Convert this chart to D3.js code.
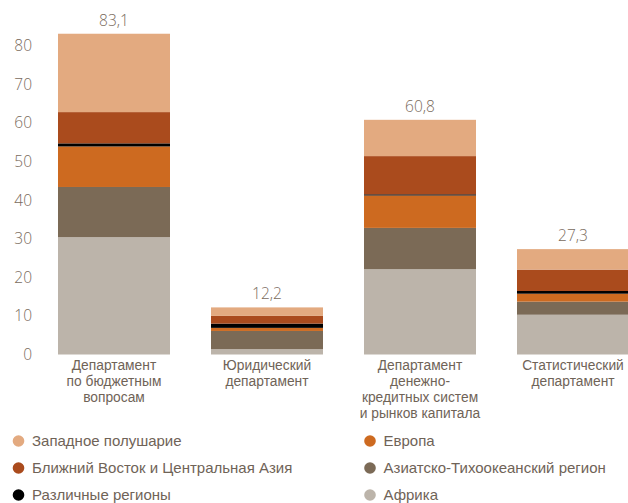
<!DOCTYPE html>
<html><head><meta charset="utf-8">
<script src="https://cdn.jsdelivr.net/npm/d3@7"></script>
<style>
html,body{margin:0;padding:0;background:#fff;}
svg{display:block;}
</style></head>
<body>
<svg id="chart" width="628" height="503"></svg>
<script>
// ---- data ----
const categories = [
  ["Департамент","по бюджетным","вопросам"],
  ["Юридический","департамент"],
  ["Департамент","денежно-","кредитных систем","и рынков капитала"],
  ["Статистический","департамент"]
];
const totals = ["83,1","12,2","60,8","27,3"];
// stacked bottom -> top
const seriesNames = ["Африка","Азиатско-Тихоокеанский регион","Европа","Различные регионы","Ближний Восток и Центральная Азия","Западное полушарие"];
const africa      = [30.4, 1.4, 22.1, 10.3];
const asiaPacific = [13.0, 4.7, 10.7, 3.4];
const europe      = [10.5, 0.8, 8.4, 2.05];
const various     = [0.8, 1.1, 0.3, 0.7];
const middleEast  = [8.1, 2.0, 9.9, 5.55];
const western     = [20.3, 2.2, 9.4, 5.3];
const yTicks = [0,10,20,30,40,50,60,70,80];
const legendOrder = ["Западное полушарие","Европа","Ближний Восток и Центральная Азия","Азиатско-Тихоокеанский регион","Различные регионы","Африка"];

const colors = {
  "Западное полушарие":"#e3aa80",
  "Европа":"#cd6a20",
  "Ближний Восток и Центральная Азия":"#aa4b1d",
  "Азиатско-Тихоокеанский регион":"#7b6a56",
  "Различные регионы":"#000000",
  "Африка":"#bcb4aa"
};
const seriesValues = [africa, asiaPacific, europe, various, middleEast, western];

const rows = categories.map((c,i)=>{
  const r = {idx:i};
  seriesNames.forEach((s,j)=>r[s]=seriesValues[j][i]);
  return r;
});

const svg = d3.select("#chart");
const x = d3.scaleBand().domain(d3.range(categories.length)).range([58,629]).paddingInner(0.268).paddingOuter(0);
const y = d3.scaleLinear().domain([0,80]).range([354.5,45.7]);

const stack = d3.stack().keys(seriesNames)(rows);
const textColor = "#7a6b5d";

svg.append("g").selectAll("g").data(stack).join("g")
  .attr("fill", d=>colors[d.key])
  .selectAll("rect").data(d=>d).join("rect")
  .attr("x", d=>x(d.data.idx))
  .attr("width", x.bandwidth())
  .attr("y", d=>y(d[1]))
  .attr("height", d=>y(d[0])-y(d[1]));

// y tick labels
svg.append("g").selectAll("text").data(yTicks).join("text")
  .attr("x", 32).attr("y", d=>y(d)).attr("dy","0.36em")
  .attr("text-anchor","end")
  .attr("font-family","'Open Sans', sans-serif").attr("font-weight",300)
  .attr("font-size",15.5).attr("fill",textColor)
  .text(d=>d);

// totals
const totalVals = rows.map(r=>d3.sum(seriesNames,s=>r[s]));
svg.append("g").selectAll("text").data(totals).join("text")
  .attr("x",(d,i)=>x(i)+x.bandwidth()/2)
  .attr("y",(d,i)=>y(totalVals[i])-8)
  .attr("text-anchor","middle")
  .attr("font-family","'Open Sans', sans-serif").attr("font-weight",300)
  .attr("font-size",15.5).attr("fill",textColor)
  .text(d=>d);

// category labels
const cat = svg.append("g").selectAll("text").data(categories).join("text")
  .attr("text-anchor","middle")
  .attr("font-family","'Liberation Sans', Arial, sans-serif")
  .attr("font-size",13.8).attr("fill","#6f6357");
cat.each(function(lines,i){
  d3.select(this).selectAll("tspan").data(lines).join("tspan")
    .attr("x", x(i)+x.bandwidth()/2)
    .attr("y",(d,k)=>370+k*16)
    .text(d=>d);
});

// legend
const legX = [18.5, 370];
const legY = [441, 468, 495];
const leg = svg.append("g").selectAll("g").data(legendOrder).join("g")
  .attr("transform",(d,i)=>`translate(${legX[i%2]},${legY[Math.floor(i/2)]})`);
leg.append("circle").attr("r",5.8).attr("fill",d=>colors[d]);
leg.append("text").attr("x",13.5).attr("dy","0.36em")
  .attr("font-family","'Liberation Sans', Arial, sans-serif")
  .attr("font-size",15).attr("fill","#6f6357")
  .text(d=>d);
</script>
</body></html>
